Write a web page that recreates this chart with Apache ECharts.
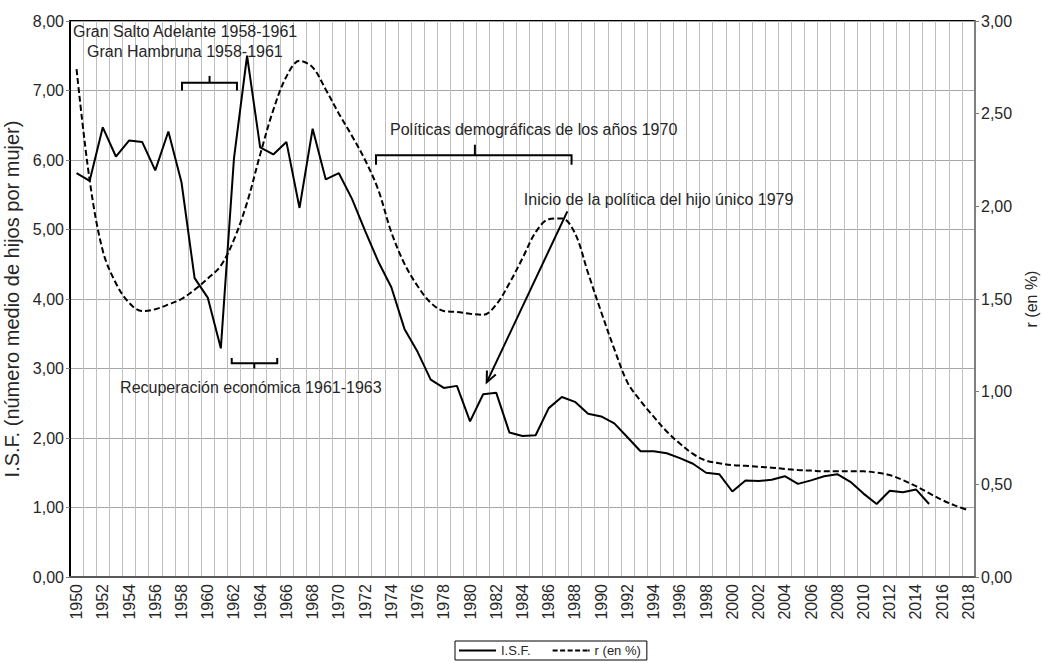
<!DOCTYPE html>
<html>
<head>
<meta charset="utf-8">
<script src="https://cdn.jsdelivr.net/npm/echarts@6/dist/echarts.min.js"></script>
<style>
html,body{margin:0;padding:0;background:#fff;}
#chart{width:1042px;height:663px;}
</style>
</head>
<body>
<div id="chart"></div>
<script>
// ---- data ----
var years = [];
for (var y = 1950; y <= 2018; y++) years.push(String(y));

var isf = [5.81,5.70,6.47,6.05,6.28,6.26,5.85,6.41,5.68,4.30,
           4.02,3.29,6.02,7.50,6.18,6.08,6.26,5.31,6.45,5.72,
           5.81,5.44,4.98,4.54,4.17,3.57,3.24,2.84,2.72,2.75,
           2.24,2.63,2.65,2.08,2.03,2.04,2.43,2.59,2.52,2.35,
           2.31,2.21,2.01,1.81,1.81,1.78,1.71,1.63,1.50,1.48,
           1.23,1.39,1.38,1.40,1.45,1.34,1.39,1.45,1.48,1.37,
           1.20,1.05,1.24,1.22,1.26,1.05];

var rate = [2.74,2.14,1.76,1.585,1.48,1.435,1.445,1.47,1.50,1.55,
            1.61,1.68,1.82,2.02,2.28,2.52,2.70,2.785,2.75,2.63,
            2.50,2.38,2.25,2.09,1.86,1.69,1.57,1.48,1.435,1.43,
            1.42,1.415,1.47,1.585,1.72,1.86,1.93,1.935,1.855,1.64,
            1.43,1.23,1.05,0.95,0.865,0.785,0.72,0.664,0.628,0.614,
            0.604,0.60,0.595,0.59,0.583,0.577,0.574,0.57,0.57,0.57,
            0.57,0.563,0.55,0.523,0.49,0.452,0.415,0.385,0.36];

var leftTicks = [0,1,2,3,4,5,6,7,8];
var rightTicks = [0,0.5,1,1.5,2,2.5,3];

// annotations in data units (x: year index, y: I.S.F. units)
var texts = [
  {x: -0.27, y: 7.85, t: 'Gran Salto Adelante 1958-1961'},
  {x: 0.80,  y: 7.56, t: 'Gran Hambruna 1958-1961'},
  {x: 3.32,  y: 2.73, t: 'Recuperación económica 1961-1963'},
  {x: 23.9,  y: 6.44, t: 'Políticas demográficas de los años 1970'},
  {x: 34.1,  y: 5.435, t: 'Inicio de la política del hijo único 1979'}
];
var brackets = [
  {x1: 8.04,  x2: 12.23, xc: 10.14, y: 7.11,  yEnd: 7.00,  yTick: 7.21},
  {x1: 11.83, x2: 15.30, xc: 13.55, y: 3.075, yEnd: 3.15,  yTick: 3.00},
  {x1: 22.83, x2: 37.74, xc: 30.37, y: 6.07,  yEnd: 5.93,  yTick: 6.22}
];
var arrows = [
  {x1: 37.42, y1: 5.26, x2: 31.27, y2: 2.80}
];

var annots = [];
texts.forEach(function(a){ annots.push({kind:'text', d:a}); });
brackets.forEach(function(a){ annots.push({kind:'bracket', d:a}); });
arrows.forEach(function(a){ annots.push({kind:'arrow', d:a}); });

function fmt(v){ return v.toFixed(2).replace('.', ','); }

var FONT = '"Liberation Sans", Arial, Helvetica, sans-serif';
var TXT = '#262626';

var chart = echarts.init(document.getElementById('chart'), null, {renderer: 'svg'});

function renderAnnot(params, api) {
  var a = annots[params.dataIndex];
  var bw = api.size([1, 0])[0];
  function P(xi, yv) {
    var base = api.coord([0, yv]);
    return [base[0] + xi * bw, base[1]];
  }
  var d = a.d;
  if (a.kind === 'text') {
    var p = P(d.x, d.y);
    return {type: 'text', x: p[0], y: p[1], style: {
      text: d.t, fill: TXT, fontSize: 16, fontFamily: FONT,
      align: 'left', verticalAlign: 'middle'}};
  }
  var st = {stroke: '#000', lineWidth: 2, fill: null};
  if (a.kind === 'bracket') {
    var e1 = P(d.x1, d.yEnd), m1 = P(d.x1, d.y), m2 = P(d.x2, d.y), e2 = P(d.x2, d.yEnd);
    var c1 = P(d.xc, d.y), c2 = P(d.xc, d.yTick);
    return {type: 'group', children: [
      {type: 'polyline', shape: {points: [e1, m1, m2, e2]}, style: st},
      {type: 'line', shape: {x1: c1[0], y1: c1[1], x2: c2[0], y2: c2[1]}, style: st}
    ]};
  }
  if (a.kind === 'arrow') {
    var s = P(d.x1, d.y1), t = P(d.x2, d.y2);
    var ang = Math.atan2(s[1] - t[1], s[0] - t[0]);
    var L = 12, sp = 0.42;
    var h1 = [t[0] + L * Math.cos(ang + sp), t[1] + L * Math.sin(ang + sp)];
    var h2 = [t[0] + L * Math.cos(ang - sp), t[1] + L * Math.sin(ang - sp)];
    return {type: 'group', children: [
      {type: 'line', shape: {x1: s[0], y1: s[1], x2: t[0], y2: t[1]}, style: st},
      {type: 'polyline', shape: {points: [h1, t, h2]}, style: st}
    ]};
  }
  return null;
}

var SOLID_ICON = 'path://M0,0h37v2h-37z';
var DASH_ICON = 'path://M0,0h5v2h-5z M7.5,0h5v2h-5z M15,0h5v2h-5z M22.5,0h5v2h-5z M30,0h5v2h-5z M35.5,0h1.5v2h-1.5z';

var option = {
  animation: false,
  backgroundColor: '#fff',
  textStyle: {fontFamily: FONT},
  grid: {left: 70, right: 67, top: 21, bottom: 86, show: true,
         borderColor: '#000', borderWidth: 2, containLabel: false,
         outerBoundsMode: 'none'},
  legend: {
    data: [{name: 'I.S.F.', icon: SOLID_ICON}, {name: 'r (en %)', icon: DASH_ICON}],
    left: 455, top: 641,
    orient: 'horizontal',
    borderColor: '#000', borderWidth: 1,
    padding: [3, 6, 3, 4],
    itemWidth: 37, itemHeight: 2, itemGap: 22,
    itemStyle: {color: '#000', borderWidth: 0},
    textStyle: {fontSize: 13, color: TXT, fontFamily: FONT}
  },
  xAxis: {
    type: 'category',
    data: years,
    boundaryGap: true,
    axisLine: {show: true, lineStyle: {color: '#595959', width: 2}},
    axisTick: {show: false},
    axisLabel: {interval: 1, rotate: 90, margin: 7, fontSize: 16,
                color: TXT, fontFamily: FONT},
    splitLine: {show: true, interval: 0, lineStyle: {color: '#bfbfbf', width: 1}}
  },
  yAxis: [{
    type: 'value', min: 0, max: 8, interval: 1,
    name: 'I.S.F. (número medio de hijos por mujer)',
    nameLocation: 'middle', nameGap: 42, nameRotate: 90,
    nameTextStyle: {fontSize: 20, color: TXT, fontFamily: FONT},
    axisLine: {show: true, lineStyle: {color: '#000', width: 2}},
    axisTick: {show: true, length: 4, lineStyle: {color: '#7f7f7f'}},
    axisLabel: {formatter: fmt, fontSize: 16, color: TXT, margin: 6, fontFamily: FONT},
    splitLine: {show: true, lineStyle: {color: '#a6a6a6', width: 1}}
  }, {
    type: 'value', min: 0, max: 3, interval: 0.5, position: 'right',
    name: 'r (en %)',
    nameLocation: 'middle', nameGap: 38, nameRotate: 90,
    nameTextStyle: {fontSize: 16, color: TXT, fontFamily: FONT},
    axisLine: {show: true, lineStyle: {color: '#7f7f7f', width: 2}},
    axisTick: {show: true, length: 4, lineStyle: {color: '#7f7f7f'}},
    axisLabel: {formatter: fmt, fontSize: 16, color: TXT, margin: 6, fontFamily: FONT},
    splitLine: {show: false}
  }],
  series: [{
    name: 'I.S.F.', type: 'line', data: isf, yAxisIndex: 0,
    symbol: 'none', showSymbol: false,
    lineStyle: {color: '#000', width: 2, type: 'solid'},
    itemStyle: {color: '#000'}, z: 3
  }, {
    name: 'r (en %)', type: 'line', data: rate, yAxisIndex: 1,
    symbol: 'none', showSymbol: false, smooth: 0.35,
    lineStyle: {color: '#000', width: 2, type: [6, 3]},
    itemStyle: {color: '#000'}, z: 3
  }, {
    name: 'annotations', type: 'custom', xAxisIndex: 0, yAxisIndex: 0,
    data: annots.map(function(a, i){ return [i, 0]; }),
    renderItem: renderAnnot, clip: false, silent: true, z: 5
  }]
};
chart.setOption(option);
</script>
</body>
</html>
